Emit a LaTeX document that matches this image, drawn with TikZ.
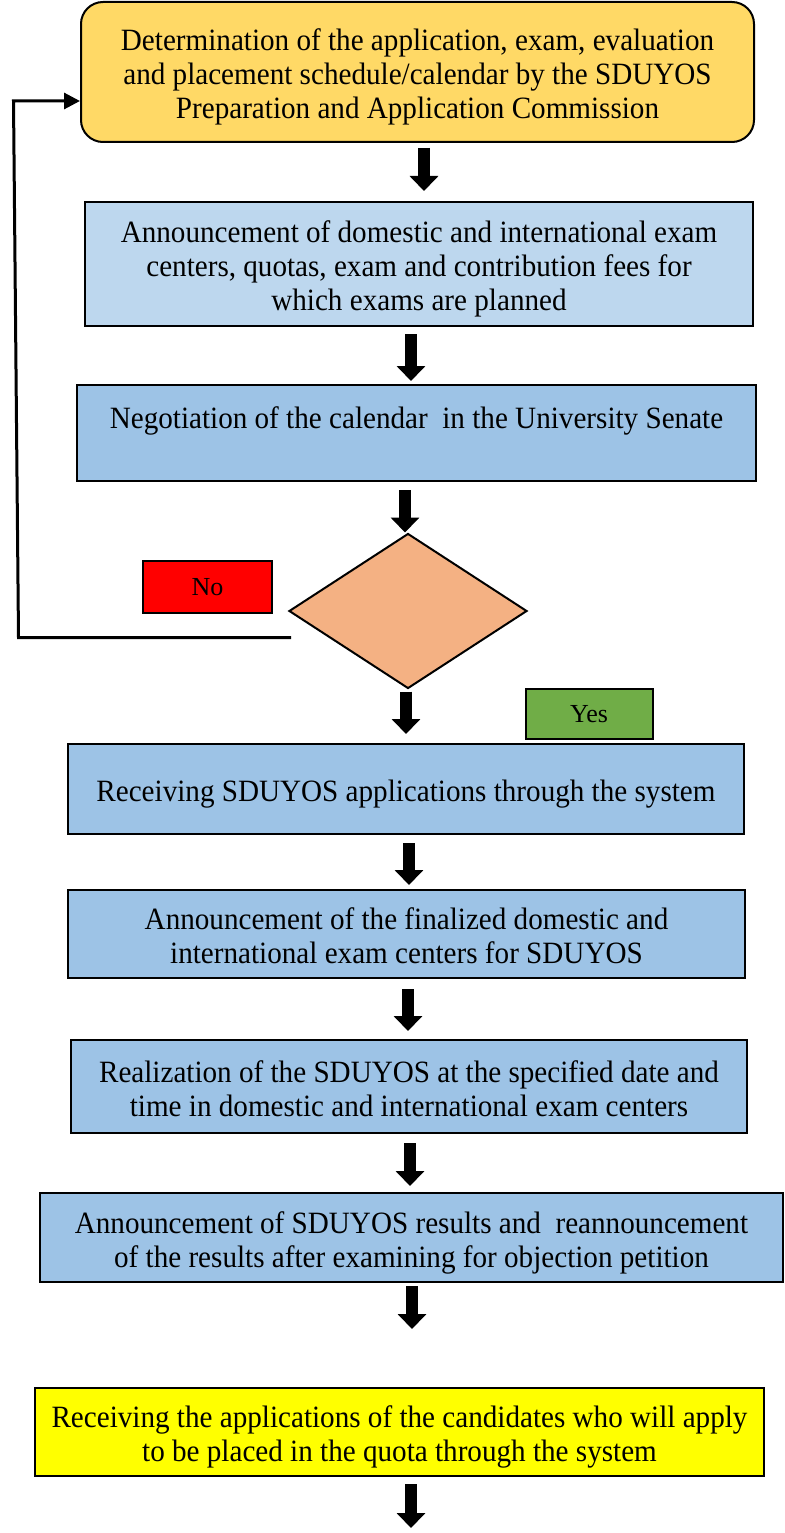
\documentclass[tikz,border=0pt]{standalone}
\usepackage{fontspec}
\setmainfont[FakeStretch=0.94]{Liberation Serif}
\newfontfamily\tagfont{Liberation Serif}
\usetikzlibrary{arrows.meta,shapes.geometric,calc}
\definecolor{cyel}{HTML}{FFD966}
\definecolor{clb}{HTML}{BDD7EE}
\definecolor{cb}{HTML}{9DC3E6}
\definecolor{cdia}{HTML}{F4B183}
\definecolor{cno}{HTML}{FF0000}
\definecolor{cyes}{HTML}{70AD47}
\definecolor{cy2}{HTML}{FFFF00}
\newcommand\tx[1]{\raisebox{-6pt}[\height][\depth]{\begin{tabular}{@{}c@{}}#1\end{tabular}}}
\begin{document}
\begin{tikzpicture}[x=1pt,y=-1pt,
  box/.style={draw=black,line width=2pt,rectangle,inner sep=0pt,
    font=\fontsize{31}{34}\selectfont},
  tag/.style={draw=black,line width=2pt,rectangle,inner sep=0pt,
    font=\tagfont\fontsize{26}{29}\selectfont},
  blk/.style={line width=12.5pt,-{Triangle[width=28pt,length=15pt]}},
  loopline/.style={line width=3pt,-{Triangle[width=16pt,length=16pt]}}]
\useasboundingbox (0,0) rectangle (784,1533);
% boxes
\node[box,fill=cyel,rounded corners=22pt,minimum width=673pt,minimum height=140pt] (b1) at (417.5,72)
 {\tx{Determination of the application, exam, evaluation\\and placement schedule/calendar by the SDUYOS\\Preparation and Application Commission}};
\node[box,fill=clb,minimum width=668pt,minimum height=124pt] (b2) at (419,264)
 {\tx{Announcement of domestic and international exam\\centers, quotas, exam and contribution fees for\\which exams are planned}};
\node[box,fill=cb,minimum width=679pt,minimum height=96pt] (b3) at (416.5,433)
 {\tx{Negotiation of the calendar\ \ in the University Senate\\\mbox{}}};
\node[diamond,draw=black,line width=2pt,fill=cdia,inner sep=0pt,minimum width=238pt,minimum height=155pt,aspect=1.535] (d) at (408,611) {};
\node[tag,fill=cno,minimum width=129pt,minimum height=52pt] (no) at (207.5,587) {No};
\node[tag,fill=cyes,minimum width=127pt,minimum height=50pt] (yes) at (589,714) {Yes};
\node[box,fill=cb,minimum width=676pt,minimum height=90pt] (b4) at (406,789)
 {\tx{Receiving SDUYOS applications through the system}};
\node[box,fill=cb,minimum width=677pt,minimum height=88pt] (b5) at (406.5,934)
 {\tx{Announcement of the finalized domestic and\\international exam centers for SDUYOS}};
\node[box,fill=cb,minimum width=676pt,minimum height=93pt] (b6) at (409,1086.5)
 {\tx{Realization of the SDUYOS at the specified date and\\time in domestic and international exam centers}};
\node[box,fill=cb,minimum width=743pt,minimum height=89pt] (b7) at (411.5,1237.5)
 {\tx{Announcement of SDUYOS results and\ \ reannouncement\\of the results after examining for objection petition}};
\node[box,fill=cy2,minimum width=729pt,minimum height=88pt] (b8) at (399.5,1432)
 {\tx{Receiving the applications of the candidates who will apply\\to be placed in the quota through the system}};
% arrow columns
\coordinate (x1) at (424,0);
\coordinate (x2) at (411,0);
\coordinate (x3) at (405,0);
\coordinate (x4) at (406,0);
\coordinate (x5) at (409,0);
\coordinate (x6) at (408,0);
\coordinate (x7) at (410,0);
\coordinate (x8) at (412,0);
\coordinate (x9) at (411,0);
\coordinate (end) at (411,1528);
\draw[blk,shorten <=5pt,shorten >=10pt] (b1.south -| x1) -- (b2.north -| x1);
\draw[blk,shorten <=7pt,shorten >=3pt] (b2.south -| x2) -- (b3.north -| x2);
\draw[blk,shorten <=8pt,shorten >=0pt] (b3.south -| x3) -- (d.north -| x3);
\draw[blk,shorten <=2pt,shorten >=9pt] (d.south -| x4) -- (b4.north -| x4);
\draw[blk,shorten <=8pt,shorten >=4pt] (b4.south -| x5) -- (b5.north -| x5);
\draw[blk,shorten <=10pt,shorten >=8pt] (b5.south -| x6) -- (b6.north -| x6);
\draw[blk,shorten <=9pt,shorten >=6pt] (b6.south -| x7) -- (b7.north -| x7);
\draw[blk,shorten <=3pt,shorten >=58pt] (b7.south -| x8) -- (b8.north -| x8);
\draw[blk,shorten <=7pt] (b8.south -| x9) -- (end);
% loop back
\coordinate (ls) at (291,637.5);
\coordinate (lc1) at (18.5,637.5);
\coordinate (lc2) at (13.5,101);
\draw[loopline] (ls) -- (lc1) -- (lc2) -- (lc2 -| b1.west);
\end{tikzpicture}
\end{document}
